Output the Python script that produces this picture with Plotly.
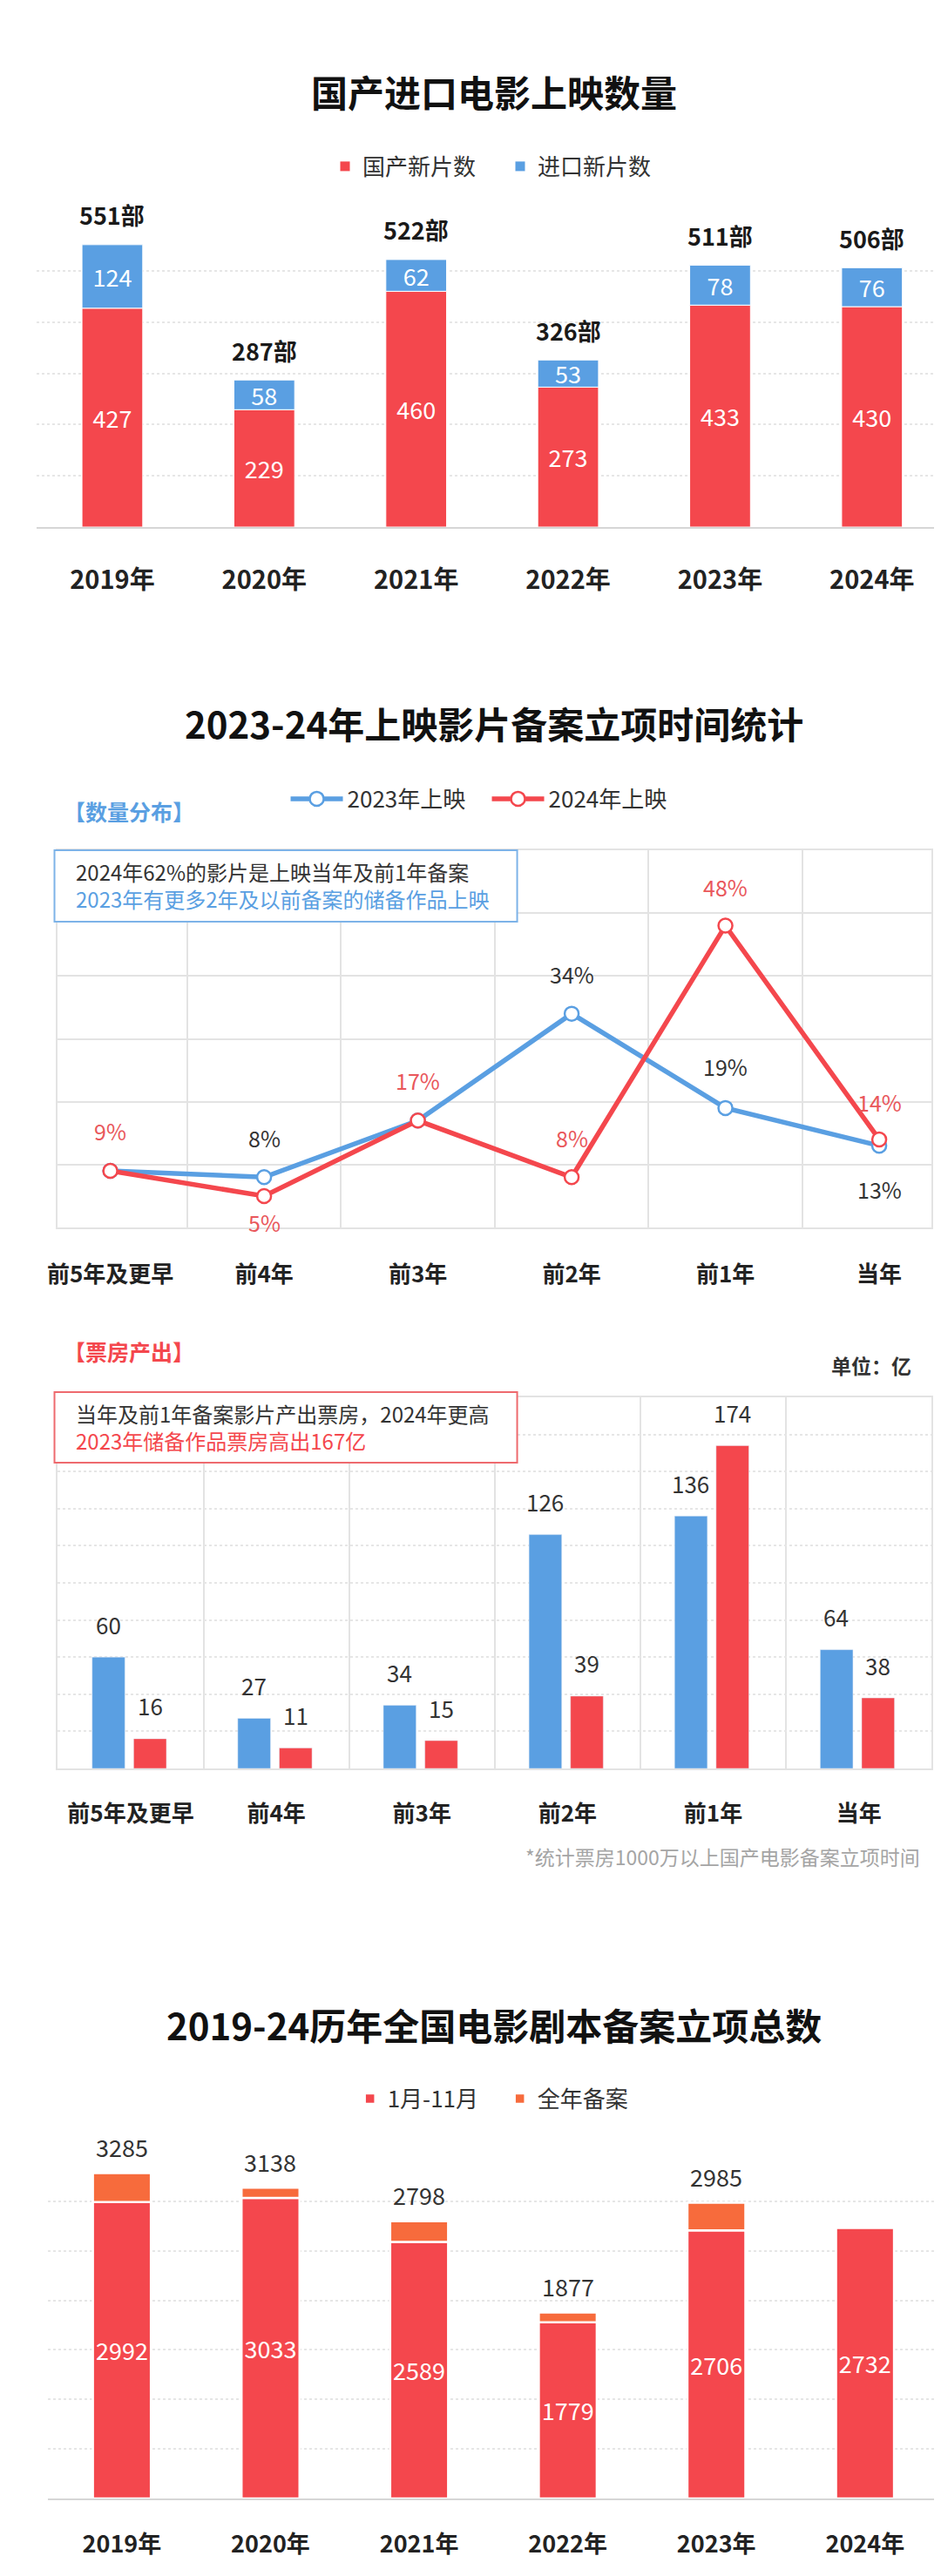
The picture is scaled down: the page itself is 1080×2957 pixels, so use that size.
import plotly.graph_objects as go

W, H = 1080, 2957
FONT = "Noto Sans CJK SC"
RED = "#F4474D"
BLUE = "#5A9FE2"
ORANGE = "#F76B3C"
DARK = "#222222"
GRID = "#e3e3e3"

# chart 1: 国产进口电影上映数量
years = ["2019年", "2020年", "2021年", "2022年", "2023年", "2024年"]
domestic = [427, 229, 460, 273, 433, 430]
imported = [124, 58, 62, 53, 78, 76]

# chart 2: 数量分布 (%)
periods = ["前5年及更早", "前4年", "前3年", "前2年", "前1年", "当年"]
share_2023 = [9, 8, 17, 34, 19, 13]
share_2024 = [9, 5, 17, 8, 48, 14]

# chart 3: 票房产出 (亿)
box_2023 = [60, 27, 34, 126, 136, 64]
box_2024 = [16, 11, 15, 39, 174, 38]

# chart 4: 剧本备案立项
script_jan_nov = [2992, 3033, 2589, 1779, 2706, 2732]
script_full = [3285, 3138, 2798, 1877, 2985, None]


def px_x(a):
    return a / W


def px_y(b):
    return 1 - b / H


def xd(a, b):
    return [a / W, b / W]


def yd(top, bottom):
    return [1 - bottom / H, 1 - top / H]


def f(size, color=DARK):
    return dict(family=FONT, size=size, color=color)


fig = go.Figure()

# ---- chart 1
totals1 = [a + b for a, b in zip(domestic, imported)]
fig.add_trace(go.Bar(x=years, y=domestic, name="国产新片数", marker_color=RED,
                     marker_line=dict(color="white", width=1), width=0.4,
                     text=domestic, textposition="inside", insidetextanchor="middle",
                     textfont=f(27, "white"), constraintext="none", textangle=0,
                     xaxis="x", yaxis="y", legend="legend"))
fig.add_trace(go.Bar(x=years, y=imported, base=domestic, name="进口新片数", marker_color=BLUE,
                     marker_line=dict(color="white", width=1), width=0.4,
                     text=imported, textposition="inside", insidetextanchor="middle",
                     textfont=f(27, "white"), constraintext="none", textangle=0,
                     xaxis="x", yaxis="y", legend="legend"))

# ---- chart 2
fig.add_trace(go.Scatter(x=periods, y=share_2023, name="2023年上映", mode="lines+markers",
                         line=dict(color=BLUE, width=5.5),
                         marker=dict(size=16, color="white", line=dict(color=BLUE, width=2.5)),
                         xaxis="x2", yaxis="y2", legend="legend2"))
fig.add_trace(go.Scatter(x=periods, y=share_2024, name="2024年上映", mode="lines+markers",
                         line=dict(color=RED, width=5.5),
                         marker=dict(size=16, color="white", line=dict(color=RED, width=2.5)),
                         xaxis="x2", yaxis="y2", legend="legend2"))

# ---- chart 3
fig.add_trace(go.Bar(x=periods, y=box_2023, marker_color=BLUE, width=0.225, offset=-0.265,
                     xaxis="x3", yaxis="y3", showlegend=False))
fig.add_trace(go.Bar(x=periods, y=box_2024, marker_color=RED, width=0.225, offset=0.02,
                     xaxis="x3", yaxis="y3", showlegend=False))

# ---- chart 4
extra = [(t - a) if t is not None else 0 for t, a in zip(script_full, script_jan_nov)]
fig.add_trace(go.Bar(x=years, y=script_jan_nov, name="1月-11月", marker_color=RED,
                     marker_line=dict(color="white", width=2.5), width=0.39,
                     text=script_jan_nov, textposition="inside", insidetextanchor="middle",
                     textfont=f(27, "white"), constraintext="none", textangle=0,
                     xaxis="x4", yaxis="y4", legend="legend3"))
fig.add_trace(go.Bar(x=years, y=extra, base=script_jan_nov, name="全年备案", marker_color=ORANGE,
                     marker_line=dict(color="white", width=2.5), width=0.39,
                     xaxis="x4", yaxis="y4", legend="legend3"))

ann = []

# titles
for text, y in [("国产进口电影上映数量", 96), ("2023-24年上映影片备案立项时间统计", 822),
                ("2019-24历年全国电影剧本备案立项总数", 2315)]:
    ann.append(dict(text="<b>" + text + "</b>", x=px_x(553), y=px_y(y), xref="paper", yref="paper",
                    xanchor="center", yanchor="middle", showarrow=False, font=f(42, "#111111")))

# chart 1 totals
for x, t in zip(years, totals1):
    ann.append(dict(text="<b>" + str(t) + "部</b>", x=x, y=t, xref="x", yref="y", yshift=34,
                    showarrow=False, yanchor="middle", font=f(27, "#1a1a1a")))

# chart 2 point labels
pos_2023 = [None, 45, None, 46, 48, -50]
pos_2024 = [46, -30, 46, 45, 45, 43]
for x, v, s in zip(periods, share_2023, pos_2023):
    if s is not None:
        ann.append(dict(text=str(v) + "%", x=x, y=v, xref="x2", yref="y2", yshift=s,
                        showarrow=False, yanchor="middle", font=f(25, "#333333")))
for x, v, s in zip(periods, share_2024, pos_2024):
    ann.append(dict(text=str(v) + "%", x=x, y=v, xref="x2", yref="y2", yshift=s,
                    showarrow=False, yanchor="middle", font=f(25, "#E9575B")))

# chart 3 bar labels
for x, v in zip(periods, box_2023):
    ann.append(dict(text=str(v), x=x, y=v, xref="x3", yref="y3", xshift=-26, yshift=38,
                    showarrow=False, yanchor="middle", font=f(26, "#333333")))
for x, v in zip(periods, box_2024):
    ann.append(dict(text=str(v), x=x, y=v, xref="x3", yref="y3", xshift=22, yshift=38,
                    showarrow=False, yanchor="middle", font=f(26, "#333333")))

# chart 4 totals
for x, t in zip(years, script_full):
    if t is not None:
        ann.append(dict(text=str(t), x=x, y=t, xref="x4", yref="y4", yshift=30,
                        showarrow=False, yanchor="middle", font=f(27, "#333333")))

# section headers and notes
ann.append(dict(text="<b>【数量分布】</b>", x=px_x(52), y=px_y(923), xref="paper", yref="paper",
                xanchor="left", yanchor="middle", showarrow=False, font=f(25, BLUE)))
ann.append(dict(text="<b>【票房产出】</b>", x=px_x(52), y=px_y(1543), xref="paper", yref="paper",
                xanchor="left", yanchor="middle", showarrow=False, font=f(25, RED)))
ann.append(dict(text="<b>单位：亿</b>", x=px_x(1040), y=px_y(1559), xref="paper", yref="paper",
                xanchor="right", yanchor="middle", showarrow=False, font=f(23, "#333333")))
ann.append(dict(text="*统计票房1000万以上国产电影备案立项时间", x=px_x(1050), y=px_y(2123),
                xref="paper", yref="paper", xanchor="right", yanchor="middle", showarrow=False,
                font=f(23, "#a5a5a5")))
ann.append(dict(text="2024年62%的影片是上映当年及前1年备案<br>"
                     "<span style='color:" + BLUE + "'>2023年有更多2年及以前备案的储备作品上映</span>",
                x=px_x(66), y=px_y(1008), xref="paper", yref="paper", xanchor="left",
                yanchor="middle", align="left", showarrow=False, font=f(24, "#333333")))
ann.append(dict(text="当年及前1年备案影片产出票房，2024年更高<br>"
                     "<span style='color:" + RED + "'>2023年储备作品票房高出167亿</span>",
                x=px_x(66), y=px_y(1630), xref="paper", yref="paper", xanchor="left",
                yanchor="middle", align="left", showarrow=False, font=f(24, "#333333")))

shapes = [
    dict(type="rect", xref="paper", yref="paper", x0=px_x(43), x1=px_x(580),
         y0=px_y(1050), y1=px_y(968), line=dict(color="#7DB3E8", width=2), fillcolor="white",
         layer="above"),
    dict(type="rect", xref="paper", yref="paper", x0=px_x(43), x1=px_x(580),
         y0=px_y(1671), y1=px_y(1590), line=dict(color="#EE6A6E", width=2), fillcolor="white",
         layer="above"),
]

base_x = dict(type="category", showgrid=False, ticks="", tickfont=f(29, DARK),
              fixedrange=True, showline=True, linecolor="#d6d6d6", linewidth=2)
base_y = dict(showticklabels=False, zeroline=False, fixedrange=True)

box_x = dict(type="category", tickson="boundaries", showgrid=True, gridcolor=GRID, gridwidth=2,
             showline=True, mirror=True, linecolor=GRID, linewidth=2, ticks="",
             tickfont=f(26, DARK))

fig.update_layout(
    width=W, height=H, margin=dict(l=0, r=0, t=0, b=0),
    paper_bgcolor="white", plot_bgcolor="white", barmode="overlay",
    font=dict(family=FONT),
    xaxis=dict(base_x, domain=xd(22, 1080), anchor="y", ticklabelstandoff=34,
               tickvals=years, ticktext=["<b>" + y + "</b>" for y in years]),
    yaxis=dict(base_y, domain=yd(244, 597), anchor="x", range=[0, 600], dtick=100,
               showgrid=True, gridcolor="#e6e6e6", griddash="dot", gridwidth=1.5),
    xaxis2=dict(box_x, domain=xd(47, 1061), anchor="y2", ticklabelstandoff=30,
                tickvals=periods, ticktext=["<b>" + p + "</b>" for p in periods]),
    yaxis2=dict(base_y, domain=yd(968, 1401), anchor="x2", range=[0, 60], dtick=10,
                showgrid=True, gridcolor=GRID, gridwidth=2, showline=True, mirror=True,
                linecolor=GRID, linewidth=2),
    xaxis3=dict(box_x, domain=xd(47, 1061), anchor="y3", ticklabelstandoff=28,
                tickvals=periods, ticktext=["<b>" + p + "</b>" for p in periods]),
    yaxis3=dict(base_y, domain=yd(1596, 2022), anchor="x3", range=[0, 200], dtick=20,
                showgrid=True, gridcolor="#e6e6e6", griddash="dot", gridwidth=1.5,
                showline=True, mirror=True, linecolor=GRID, linewidth=2),
    xaxis4=dict(base_x, domain=xd(35, 1070), anchor="y4", ticklabelstandoff=28,
                tickfont=f(27, DARK),
                tickvals=years, ticktext=["<b>" + y + "</b>" for y in years]),
    yaxis4=dict(base_y, domain=yd(2462, 2860), anchor="x4", range=[0, 3500], dtick=500,
                showgrid=True, gridcolor="#e6e6e6", griddash="dot", gridwidth=1.5),
    legend=dict(orientation="h", x=px_x(360), y=px_y(183), xanchor="left", yanchor="middle",
                font=f(26, "#333333"), bgcolor="rgba(0,0,0,0)", traceorder="normal",
                entrywidth=156, entrywidthmode="pixels"),
    legend2=dict(orientation="h", x=px_x(312), y=px_y(909), xanchor="left", yanchor="middle",
                 font=f(26, "#333333"), bgcolor="rgba(0,0,0,0)", traceorder="normal",
                 itemwidth=60, entrywidth=156, entrywidthmode="pixels"),
    legend3=dict(orientation="h", x=px_x(389), y=px_y(2401), xanchor="left", yanchor="middle",
                 font=f(26, "#333333"), bgcolor="rgba(0,0,0,0)", traceorder="normal",
                 entrywidth=127, entrywidthmode="pixels"),
    annotations=ann,
    shapes=shapes,
)

fig.write_html("out.html")
